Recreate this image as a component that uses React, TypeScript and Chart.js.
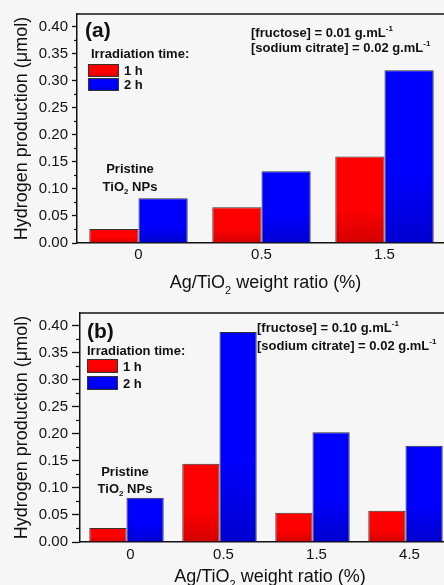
import React, { useEffect, useRef } from 'react';
import { Chart, registerables } from 'chart.js';

Chart.register(...registerables);

// ---------------- data ----------------
const categoriesA = ['0', '0.5', '1.5'];
const oneHourA = [0.026, 0.066, 0.16];
const twoHourA = [0.083, 0.133, 0.32];

const categoriesB = ['0', '0.5', '1.5', '4.5'];
const oneHourB = [0.026, 0.145, 0.054, 0.058];
const twoHourB = [0.082, 0.389, 0.203, 0.178];

const seriesLabels = ['1 h', '2 h'];
const yTickValues = [0, 0.05, 0.1, 0.15, 0.2, 0.25, 0.3, 0.35, 0.4];
const yMinorValues = [0.025, 0.075, 0.125, 0.175, 0.225, 0.275, 0.325, 0.375];
const yMax = 0.424;

const fructoseA = '0.01';
const fructoseB = '0.10';
const citrate = '0.02';

// ---------------- styles ----------------
const FONT = '"Liberation Sans", Arial, Helvetica, sans-serif';
const INK = '#111111';
const RED_TOP = '#ff0000';
const RED_BOT = '#d40000';
const BLUE_TOP = '#0000ff';
const BLUE_BOT = '#0000d0';

type Seg = { t: string; sub?: boolean; sup?: boolean };

function drawRich(
  ctx: CanvasRenderingContext2D,
  segs: Seg[],
  x: number,
  cy: number,
  size: number,
  bold: boolean,
  align: 'left' | 'center'
) {
  const w = bold ? 'bold ' : '';
  const small = Math.round(size * 0.62);
  const fMain = `${w}${size}px ${FONT}`;
  const fSmall = `${w}${small}px ${FONT}`;
  let total = 0;
  for (const s of segs) {
    ctx.font = s.sub || s.sup ? fSmall : fMain;
    total += ctx.measureText(s.t).width;
  }
  let cx = align === 'center' ? x - total / 2 : x;
  const base = cy + size * 0.36;
  ctx.textAlign = 'left';
  ctx.textBaseline = 'alphabetic';
  ctx.fillStyle = INK;
  for (const s of segs) {
    ctx.font = s.sub || s.sup ? fSmall : fMain;
    const dy = s.sub ? size * 0.28 : s.sup ? -size * 0.42 : 0;
    ctx.fillText(s.t, cx, base + dy);
    cx += ctx.measureText(s.t).width;
  }
}

function vGradient(ctx: CanvasRenderingContext2D, y0: number, y1: number, top: string, bot: string) {
  const g = ctx.createLinearGradient(0, y0, 0, y1);
  g.addColorStop(0, top);
  g.addColorStop(0.6, top);
  g.addColorStop(1, bot);
  return g;
}

function barFill(top: string, bot: string) {
  return (c: any) => {
    const chart = c.chart;
    if (!chart.chartArea || c.type !== 'data') return top;
    const ys = chart.scales.y;
    const y0 = ys.getPixelForValue(c.raw as number);
    const y1 = ys.getPixelForValue(0);
    if (!(y1 > y0)) return top;
    return vGradient(chart.ctx, y0, y1, top, bot);
  };
}

interface PanelCfg {
  id: string;
  tag: string;
  categories: string[];
  one: number[];
  two: number[];
  fructose: string;
  top: number;
  width: number;
  height: number;
  padTop: number;
  padRight: number;
  yWidth: number;
  xHeight: number;
  tickLen: number;
  minorLen: number;
  tickPad: number;
  xTickPad: number;
  xLabelOffset: number;
  tagPos: [number, number];
  legTitlePos: [number, number];
  legBox: [number, number, number, number, number]; // x, y, w, h, step
  legLabelX: number;
  annoPos: [number, number, number];
  pristinePos: [number, number, number];
  xTitleY: number;
}

const panelA: PanelCfg = {
  id: 'a',
  tag: '(a)',
  categories: categoriesA,
  one: oneHourA,
  two: twoHourA,
  fructose: fructoseA,
  top: 0,
  width: 460,
  height: 295,
  padTop: 14,
  padRight: 14,
  yWidth: 77,
  xHeight: 52,
  tickLen: 5,
  minorLen: 3,
  tickPad: 4,
  xTickPad: 3,
  xLabelOffset: 0,
  tagPos: [85, 29],
  legTitlePos: [91, 53],
  legBox: [88, 64, 31, 13, 14],
  legLabelX: 124,
  annoPos: [251, 32, 47],
  pristinePos: [130, 168, 186],
  xTitleY: 282,
};

const panelB: PanelCfg = {
  id: 'b',
  tag: '(b)',
  categories: categoriesB,
  one: oneHourB,
  two: twoHourB,
  fructose: fructoseB,
  top: 295,
  width: 460,
  height: 290,
  padTop: 18,
  padRight: 8,
  yWidth: 80,
  xHeight: 43,
  tickLen: 8,
  minorLen: 4,
  tickPad: 4,
  xTickPad: 4,
  xLabelOffset: 4,
  tagPos: [87, 35],
  legTitlePos: [87, 55],
  legBox: [87, 64, 31, 14, 17],
  legLabelX: 123,
  annoPos: [257, 32, 50],
  pristinePos: [125, 176, 193],
  xTitleY: 281,
};

function decorPlugin(p: PanelCfg) {
  return {
    id: 'decor-' + p.id,
    afterDraw(chart: any) {
      const ctx: CanvasRenderingContext2D = chart.ctx;
      const area = chart.chartArea;
      const ys = chart.scales.y;
      ctx.save();
      // top frame
      ctx.strokeStyle = INK;
      ctx.lineWidth = 1.5;
      ctx.beginPath();
      ctx.moveTo(area.left, area.top);
      ctx.lineTo(chart.width, area.top);
      ctx.stroke();
      // minor ticks
      ctx.lineWidth = 1.2;
      for (const v of yMinorValues) {
        const y = ys.getPixelForValue(v);
        ctx.beginPath();
        ctx.moveTo(area.left - p.minorLen, y);
        ctx.lineTo(area.left, y);
        ctx.stroke();
      }
      // panel tag
      drawRich(ctx, [{ t: p.tag }], p.tagPos[0], p.tagPos[1], 21, true, 'left');
      // legend
      drawRich(ctx, [{ t: 'Irradiation time:' }], p.legTitlePos[0], p.legTitlePos[1], 13, true, 'left');
      const [bx, by, bw, bh, step] = p.legBox;
      const cols = [
        [RED_TOP, RED_BOT],
        [BLUE_TOP, BLUE_BOT],
      ];
      chart.data.datasets.forEach((ds: any, i: number) => {
        const y = by + i * step;
        ctx.fillStyle = vGradient(ctx, y, y + bh, cols[i][0], cols[i][1]);
        ctx.fillRect(bx, y, bw, bh);
        ctx.strokeStyle = '#333';
        ctx.lineWidth = 1;
        ctx.strokeRect(bx + 0.5, y + 0.5, bw - 1, bh - 1);
        drawRich(ctx, [{ t: ds.label }], p.legLabelX, y + bh / 2, 13, true, 'left');
      });
      // concentrations
      const [ax, ay1, ay2] = p.annoPos;
      drawRich(
        ctx,
        [{ t: `[fructose] = ${p.fructose} g.mL` }, { t: '-1', sup: true }],
        ax,
        ay1,
        13,
        true,
        'left'
      );
      drawRich(
        ctx,
        [{ t: `[sodium citrate] = ${citrate} g.mL` }, { t: '-1', sup: true }],
        ax,
        ay2,
        13,
        true,
        'left'
      );
      // pristine label
      const [px, py1, py2] = p.pristinePos;
      drawRich(ctx, [{ t: 'Pristine' }], px, py1, 13, true, 'center');
      drawRich(ctx, [{ t: 'TiO' }, { t: '2', sub: true }, { t: ' NPs' }], px, py2, 13, true, 'center');
      // x title
      const cx = (area.left + area.right) / 2 + 4;
      drawRich(
        ctx,
        [{ t: 'Ag/TiO' }, { t: '2', sub: true }, { t: ' weight ratio (%)' }],
        cx,
        p.xTitleY,
        18,
        false,
        'center'
      );
      ctx.restore();
    },
  };
}

function Panel({ cfg }: { cfg: PanelCfg }) {
  const ref = useRef<HTMLCanvasElement | null>(null);
  useEffect(() => {
    if (!ref.current) return;
    const p = cfg;
    const chart = new Chart(ref.current, {
      type: 'bar',
      data: {
        labels: p.categories,
        datasets: [
          {
            label: seriesLabels[0],
            data: p.one,
            backgroundColor: barFill(RED_TOP, RED_BOT) as any,
            borderColor: '#333',
            borderWidth: 1,
            categoryPercentage: 0.8,
            barPercentage: 1,
          },
          {
            label: seriesLabels[1],
            data: p.two,
            backgroundColor: barFill(BLUE_TOP, BLUE_BOT) as any,
            borderColor: '#333',
            borderWidth: 1,
            categoryPercentage: 0.8,
            barPercentage: 1,
          },
        ],
      },
      options: {
        responsive: false,
        animation: false,
        devicePixelRatio: 1,
        layout: { padding: { top: p.padTop, right: p.padRight, left: 0, bottom: 0 } },
        plugins: { legend: { display: false }, tooltip: { enabled: false } },
        scales: {
          x: {
            type: 'category',
            offset: true,
            grid: { display: false, drawTicks: false },
            border: { display: true, color: INK, width: 1.5 },
            ticks: {
              font: { family: FONT, size: 15 },
              color: INK,
              padding: p.xTickPad,
              labelOffset: p.xLabelOffset,
              maxRotation: 0,
              autoSkip: false,
            },
            afterFit: (s: any) => {
              s.height = p.xHeight;
            },
          },
          y: {
            min: 0,
            max: yMax,
            grid: {
              display: true,
              drawOnChartArea: false,
              drawTicks: true,
              tickLength: p.tickLen,
              tickColor: INK,
              tickWidth: 1.3,
            },
            border: { display: true, color: INK, width: 1.5 },
            ticks: {
              padding: p.tickPad,
              font: { family: FONT, size: 15 },
              color: INK,
              callback: (v: any) => Number(v).toFixed(2),
            },
            afterBuildTicks: (s: any) => {
              s.ticks = yTickValues.map((v) => ({ value: v }));
            },
            title: {
              display: true,
              text: 'Hydrogen production (μmol)',
              font: { family: FONT, size: 18 },
              color: INK,
              padding: { top: 11, bottom: 0 },
            },
            afterFit: (s: any) => {
              s.width = p.yWidth;
            },
          },
        },
      } as any,
      plugins: [decorPlugin(p)],
    });
    return () => chart.destroy();
  }, [cfg]);
  return (
    <div style={{ position: 'absolute', left: 0, top: cfg.top, width: cfg.width, height: cfg.height }}>
      <canvas ref={ref} width={cfg.width} height={cfg.height} style={{ display: 'block' }} />
    </div>
  );
}

export default function App() {
  return (
    <div
      style={{
        position: 'fixed',
        left: 0,
        top: 0,
        width: 444,
        height: 585,
        overflow: 'hidden',
        background: '#f6f6f6',
      }}
    >
      <Panel cfg={panelA} />
      <Panel cfg={panelB} />
    </div>
  );
}
